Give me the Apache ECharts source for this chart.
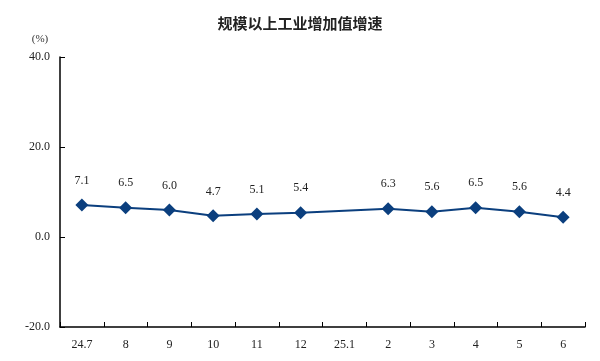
<!DOCTYPE html>
<html><head><meta charset="utf-8">
<script src="https://cdn.jsdelivr.net/npm/echarts@6/dist/echarts.min.js"></script>
<style>html,body{margin:0;padding:0;background:#fff}#c{width:600px;height:361px}</style>
</head><body><div id="c"></div>
<script>
var categories = ['24.7','8','9','10','11','12','25.1','2','3','4','5','6'];
var values = [7.1, 6.5, 6.0, 4.7, 5.1, 5.4, null, 6.3, 5.6, 6.5, 5.6, 4.4];
var yTicks = [-20, 0, 20, 40];
var chart = echarts.init(document.getElementById('c'));
var serif = "'Liberation Serif','DejaVu Serif','Noto Sans CJK SC',serif";
chart.setOption({
  animation: false,
  title: {
    text: '规模以上工业增加值增速',
    left: 'center', top: 11,
    textStyle: {fontFamily: "'Noto Sans CJK SC'", fontSize: 15, fontWeight: 'bold', color: '#222'}
  },
  grid: {left: 60, right: 15, top: 57, bottom: 34, containLabel: false},
  xAxis: {
    type: 'category', data: categories, boundaryGap: true,
    axisLine: {onZero: false, lineStyle: {color: '#000', width: 1.5}},
    axisTick: {show: true, inside: true, length: 5, lineStyle: {color: '#000'}},
    axisLabel: {margin: 12, color: '#222', fontFamily: serif, fontSize: 12}
  },
  yAxis: {
    type: 'value', min: yTicks[0], max: yTicks[yTicks.length-1], interval: 20,
    name: '(%)', nameLocation: 'end', nameGap: 12,
    nameTextStyle: {color: '#333', fontFamily: serif, fontSize: 11, align: 'center', padding: [0, 0, 0, -40]},
    axisLine: {show: true, lineStyle: {color: '#000', width: 1.5}},
    axisTick: {show: true, inside: true, length: 5, lineStyle: {color: '#000'}},
    splitLine: {show: false},
    axisLabel: {margin: 10, color: '#222', fontFamily: serif, fontSize: 12,
      formatter: function(v){return v.toFixed(1);}}
  },
  series: [{
    type: 'line', data: values, connectNulls: true,
    symbol: 'diamond', symbolSize: 13,
    lineStyle: {color: '#0b3f7e', width: 2},
    itemStyle: {color: '#0b3f7e'},
    label: {show: true, position: 'top', distance: 12, color: '#222', fontFamily: serif, fontSize: 12,
      formatter: function(p){return p.value.toFixed(1);}}
  }]
});
</script></body></html>
